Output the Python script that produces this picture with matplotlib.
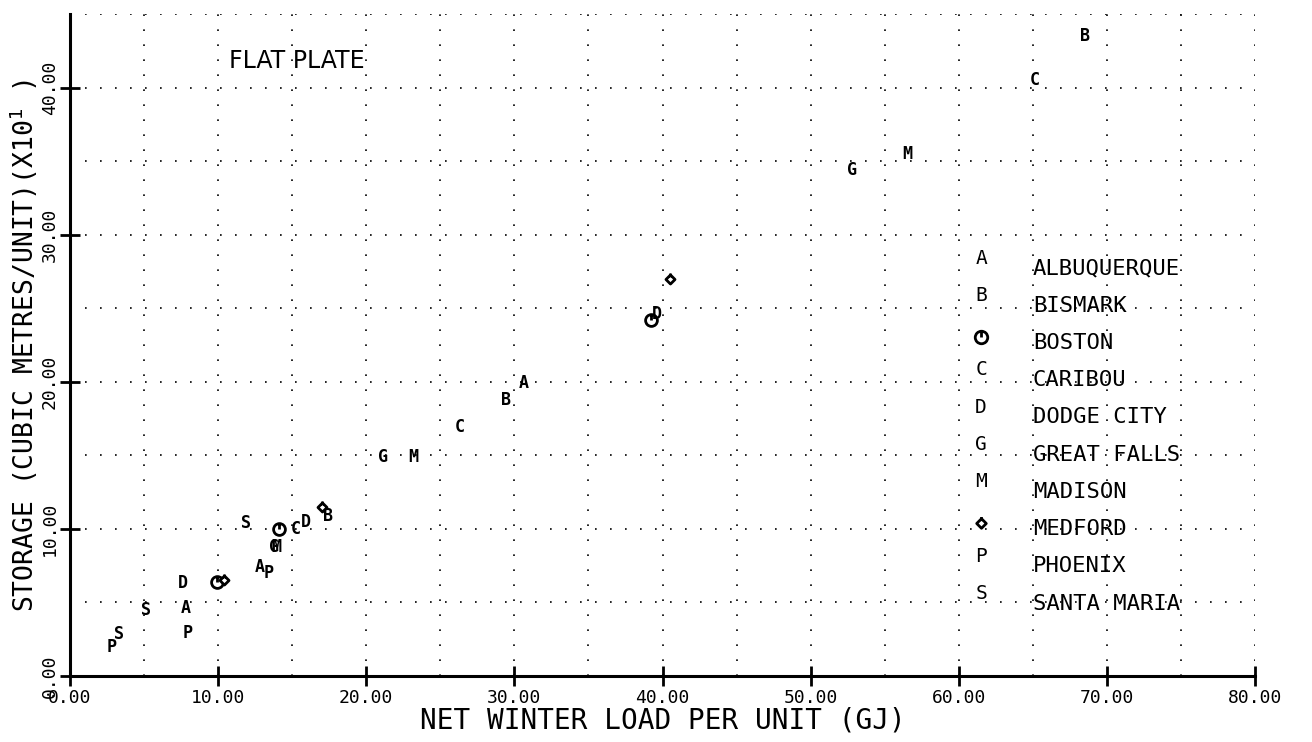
import numpy as np
import matplotlib.pyplot as plt
from matplotlib.path import Path

# data (x = net winter load GJ, y = storage x10 m3)
cities  = ['ALBUQUERQUE', 'BISMARK', 'BOSTON', 'CARIBOU', 'DODGE CITY',
           'GREAT FALLS', 'MADISON', 'MEDFORD', 'PHOENIX', 'SANTA MARIA']
symbols = ['A', 'B', 'boston', 'C', 'D', 'G', 'M', 'medford', 'P', 'S']

load_x = [
    [7.8, 12.8, 30.6],      # A
    [17.4, 29.4, 68.5],     # B
    [9.9, 14.1, 39.2],      # Boston
    [15.25, 26.3, 65.1],    # C
    [7.6, 15.95, 39.6],     # D
    [13.8, 21.1, 52.8],     # G
    [13.9, 23.2, 56.5],     # M
    [10.4, 17.0, 40.5],     # Medford
    [2.8, 7.95, 13.4],      # P
    [3.3, 5.1, 11.9],       # S
]
storage_y = [
    [4.6, 7.4, 19.9],
    [10.9, 18.8, 43.5],
    [6.4, 10.0, 24.2],
    [10.0, 16.9, 40.5],
    [6.3, 10.5, 24.6],
    [8.8, 14.9, 34.4],
    [8.8, 14.9, 35.5],
    [6.5, 11.5, 27.0],
    [2.0, 2.9, 7.0],
    [2.85, 4.5, 10.4],
]

xticks = [0, 10, 20, 30, 40, 50, 60, 70, 80]
yticks = [0, 10, 20, 30, 40]

# special marker shapes
boston_mk = Path.make_compound_path(Path.unit_circle(), Path([(0, 1.0), (0, 0.0)]))
medford_mk = Path.make_compound_path(
    Path([(0, 1), (1, 0), (0, -1), (-1, 0), (0, 1)], closed=True),
    Path([(0, 1.3), (0, 0.5)]))

mono = 'DejaVu Sans Mono'

fig = plt.figure(figsize=(13.12, 7.42), dpi=100)
ax = fig.add_axes([0.0534, 0.0889, 0.9032, 0.892])
ax.set_xlim(0, 80)
ax.set_ylim(0, 45)

# dotted grid every 5
for gx in np.arange(5, 81, 5):
    ax.axvline(gx, color='black', lw=1.2, ls=(0, (1, 8)), zorder=0)
for gy in np.arange(5, 46, 5):
    ax.axhline(gy, color='black', lw=1.2, ls=(0, (1, 8)), zorder=0)

for s in ['top', 'right']:
    ax.spines[s].set_visible(False)
for s in ['left', 'bottom']:
    ax.spines[s].set_linewidth(2.2)

ax.set_xticks(xticks)
ax.set_yticks(yticks)
ax.set_xticklabels(['%.2f' % v for v in xticks], fontfamily=mono, fontsize=13)
ax.set_yticklabels(['%.2f' % v for v in yticks], fontfamily=mono, fontsize=13,
                   rotation=90, va='center')
ax.tick_params(direction='inout', length=14, width=2, pad=2)
ax.tick_params(axis='y', pad=1)

ax.set_xlabel('NET WINTER LOAD PER UNIT (GJ)', fontfamily=mono, fontsize=20, labelpad=0)
ax.set_ylabel('STORAGE (CUBIC METRES/UNIT)(X10$^{1}$ )', fontfamily=mono,
              fontsize=19, labelpad=1)

def draw_symbol(sym, x, y, size=8.5):
    if sym == 'boston':
        ax.plot(x, y, marker=boston_mk, ms=size, mfc='white', mec='black',
                mew=2, ls='none', zorder=3)
    elif sym == 'medford':
        ax.plot(x, y, marker=medford_mk, ms=size, mfc='white', mec='black',
                mew=2, ls='none', zorder=3)
    else:
        ax.text(x, y, sym, ha='center', va='center', fontfamily=mono,
                fontweight='bold', fontsize=12, zorder=3)

for sym, xs, ys in zip(symbols, load_x, storage_y):
    for x, y in zip(xs, ys):
        draw_symbol(sym, x, y)

# key
key_top = 28.1
key_step = 2.53
for i, (sym, name) in enumerate(zip(symbols, cities)):
    ky = key_top - i * key_step
    if sym in ('boston', 'medford'):
        ax.plot(61.5, ky, marker=boston_mk if sym == 'boston' else medford_mk,
                ms=9, mfc='white', mec='black', mew=2, ls='none')
    else:
        ax.text(61.5, ky + 0.3, sym, ha='center', va='center', fontfamily=mono,
                fontsize=14)
    ax.text(65.0, ky - 0.4, name, ha='left', va='center', fontfamily=mono,
            fontsize=16)

ax.text(10.7, 41.8, 'FLAT PLATE', ha='left', va='center',
        fontfamily='Liberation Sans Narrow', fontsize=17)

fig.savefig('out.png', dpi=100)
